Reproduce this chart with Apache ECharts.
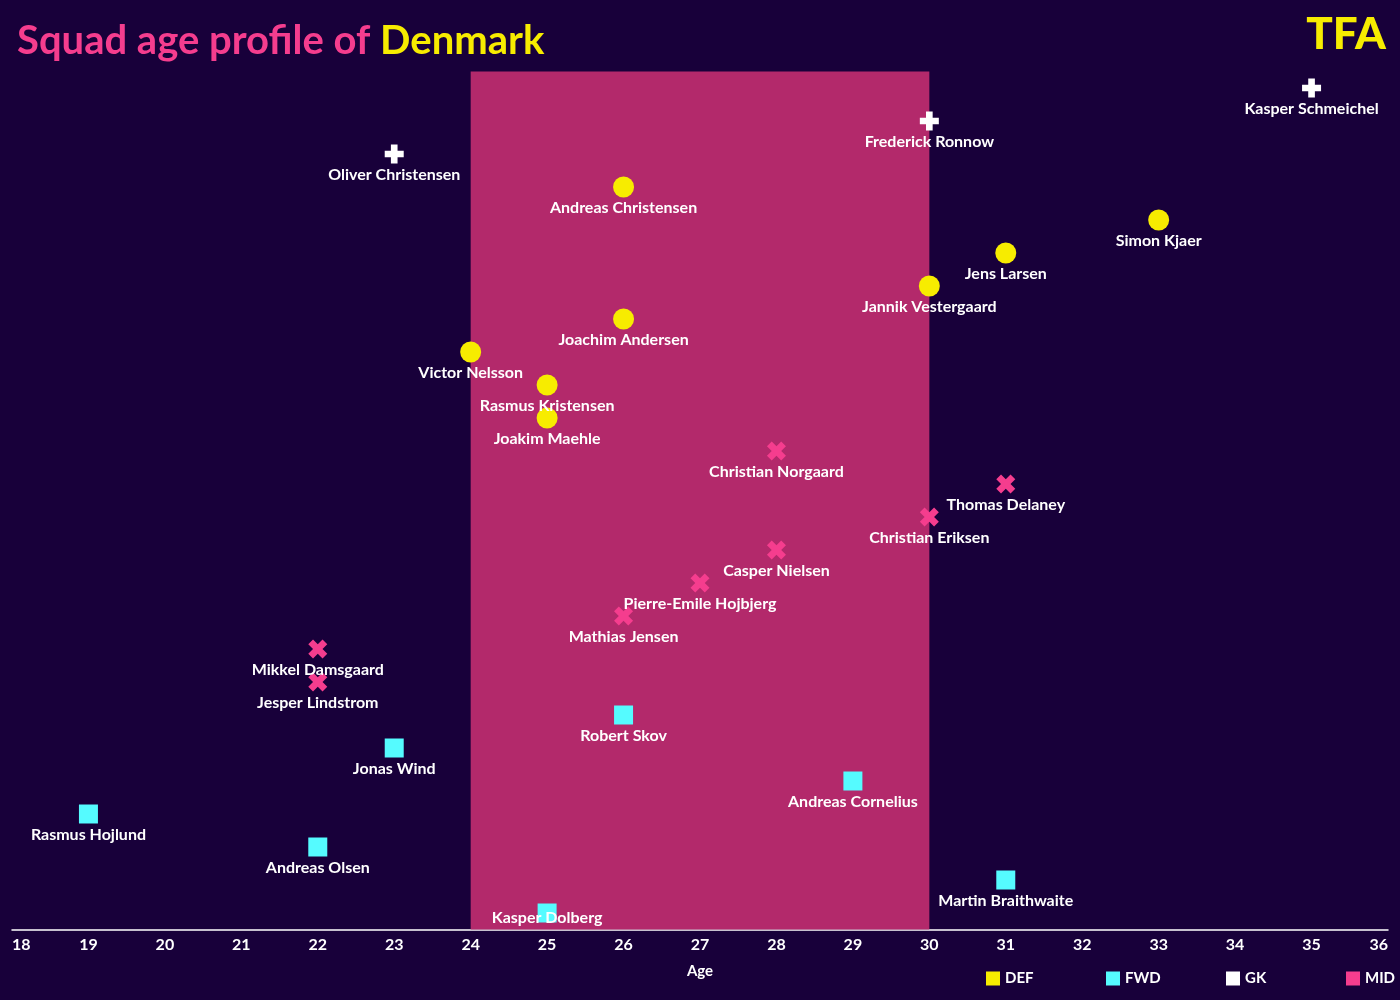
<!DOCTYPE html>
<html>
<head>
<meta charset="utf-8">
<script src="https://cdn.jsdelivr.net/npm/echarts@6/dist/echarts.min.js"></script>
<style>html,body{margin:0;padding:0;background:#18003a;}#c{width:1400px;height:1000px;}</style>
</head>
<body>
<div id="c"></div>
<script>
// Players listed top to bottom
const players = ["Kasper Schmeichel","Frederick Ronnow","Oliver Christensen","Andreas Christensen","Simon Kjaer","Jens Larsen","Jannik Vestergaard","Joachim Andersen","Victor Nelsson","Rasmus Kristensen","Joakim Maehle","Christian Norgaard","Thomas Delaney","Christian Eriksen","Casper Nielsen","Pierre-Emile Hojbjerg","Mathias Jensen","Mikkel Damsgaard","Jesper Lindstrom","Robert Skov","Jonas Wind","Andreas Cornelius","Rasmus Hojlund","Andreas Olsen","Martin Braithwaite","Kasper Dolberg"];
const ages = [35,30,23,26,33,31,30,26,24,25,25,28,31,30,28,27,26,22,22,26,23,29,19,22,31,25];
const positions = ["GK","GK","GK","DEF","DEF","DEF","DEF","DEF","DEF","DEF","DEF","MID","MID","MID","MID","MID","MID","MID","MID","FWD","FWD","FWD","FWD","FWD","FWD","FWD"];
const groups = ["DEF","FWD","GK","MID"];
const peakAge = [24, 30];
const xTicks = [18,19,20,21,22,23,24,25,26,27,28,29,30,31,32,33,34,35,36];

const colors = {DEF:"#f7ec00", FWD:"#55fbff", GK:"#ffffff", MID:"#f53d8e"};
const symbols = {
  DEF: "circle",
  FWD: "rect",
  GK: "path://M6.5,0 H13.5 V6.5 H20 V13.5 H13.5 V20 H6.5 V13.5 H0 V6.5 H6.5 Z",
  MID: "path://M5,0 L10,5 L15,0 L20,5 L15,10 L20,15 L15,20 L10,15 L5,20 L0,15 L5,10 L0,5 Z"
};
const sizes = {DEF:21, FWD:19, GK:19, MID:19};
const FONT = "Lato, 'Noto Sans', sans-serif";

const n = players.length;
const series = groups.map((g, gi) => {
  const data = [];
  players.forEach((p, i) => {
    if (positions[i] === g) {
      const d = {value:[ages[i], n - i], name:p};
      if (i === n - 1) d.label = {offset: [0, 5]};
      data.push(d);
    }
  });
  const s = {
    name: g, type: 'scatter', data: data,
    symbol: symbols[g], symbolSize: sizes[g],
    itemStyle: {color: colors[g], opacity: 1},
    label: {show: true, position: 'inside', offset: [0, 21], formatter: '{b}',
      color: '#ffffff', fontSize: 16, fontWeight: 'bold', fontFamily: FONT},
    emphasis: {disabled: true},
    z: 3
  };
  if (gi === 0) {
    s.markArea = {silent: true, itemStyle: {color: '#b3296b', opacity: 1},
      data: [[{xAxis: peakAge[0], yAxis: 0.5}, {xAxis: peakAge[1], yAxis: n + 0.5}]]};
  }
  return s;
});

const legendLeft = [986, 1106, 1226, 1346];
const legends = groups.map((g, i) => ({
  data: [g], left: legendLeft[i], top: 971, padding: 0, itemGap: 0,
  itemWidth: 14, itemHeight: 14, icon: 'rect', selectedMode: false,
  textStyle: {color: '#ffffff', fontSize: 15, fontWeight: 'bold', fontFamily: FONT}
}));

const chart = echarts.init(document.getElementById('c'));
chart.setOption({
  backgroundColor: '#18003a',
  animation: false,
  title: {
    left: 12, top: 16,
    text: '{a|Squad age profile of }{b|Denmark}',
    textStyle: {rich: {
      a: {color: '#f53d8e', fontSize: 40, fontWeight: 'bold', fontFamily: FONT},
      b: {color: '#f7ec00', fontSize: 40, fontWeight: 'bold', fontFamily: FONT}
    }}
  },
  graphic: [{type: 'text', right: 14, top: 13,
    style: {text: 'TFA', fill: '#f7ec00', fontSize: 44, fontWeight: 900, fontFamily: FONT}}],
  grid: {left: 12, right: 12, top: 71.5, bottom: 70.5, containLabel: false},
  xAxis: {
    type: 'value', min: xTicks[0], max: xTicks[xTicks.length - 1], interval: 1,
    name: 'Age', nameLocation: 'middle', nameGap: 34,
    nameTextStyle: {color: '#ffffff', fontSize: 15, fontWeight: 'bold', fontFamily: FONT},
    axisLine: {show: true, lineStyle: {color: '#ffffff', width: 1.5}},
    axisTick: {show: false},
    splitLine: {show: false},
    axisLabel: {color: '#ffffff', fontSize: 16, fontWeight: 'bold', fontFamily: FONT, margin: 7,
      alignMinLabel: 'left', alignMaxLabel: 'right'}
  },
  yAxis: {type: 'value', min: 0.5, max: n + 0.5, show: false},
  legend: legends,
  series: series
});
</script>
</body>
</html>
